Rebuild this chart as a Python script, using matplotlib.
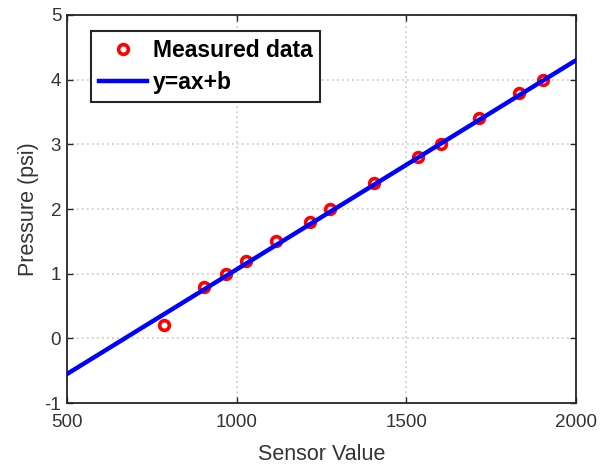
import numpy as np
import matplotlib.pyplot as plt

# ---------------------------------
# DATA
# ---------------------------------

sensor_value = [786, 904, 969, 1028, 1116, 1216, 1275, 1405, 1534, 1602, 1714, 1832, 1903]
pressure = [0.2, 0.8, 1.0, 1.2, 1.5, 1.8, 2.0, 2.4, 2.8, 3.0, 3.4, 3.8, 4.0]

# fitted line y = a*x + b
a = 0.003235
b = -2.17

x_ticks = [500, 1000, 1500, 2000]
y_ticks = [-1, 0, 1, 2, 3, 4, 5]

# ---------------------------------
# CREATE GRAPH
# ---------------------------------

plt.rcParams["font.family"] = ["Liberation Sans", "DejaVu Sans"]
plt.rcParams["axes.unicode_minus"] = False

fig = plt.figure(figsize=(6.07, 4.66), dpi=100)
ax = fig.add_axes([0.110, 0.135, 0.839, 0.833])

ax.plot(sensor_value, pressure, "o", color="red", markerfacecolor="none",
        markersize=7, markeredgewidth=2.6, label="Measured data", zorder=3)

x_line = np.array([x_ticks[0], x_ticks[-1]])
ax.plot(x_line, a * x_line + b, color="blue", linewidth=3.2,
        label="y=ax+b", zorder=4)

ax.set_xlim(x_ticks[0], x_ticks[-1])
ax.set_ylim(y_ticks[0], y_ticks[-1])
ax.set_xticks(x_ticks)
ax.set_yticks(y_ticks)

ax.grid(True, linestyle=(0, (1, 2)), color="#c8c8c8", linewidth=1.2)
ax.tick_params(direction="in", length=4, width=1.0, labelsize=13.5,
               top=True, right=True, colors="#262626", labelcolor="#333333")
ax.tick_params(axis="x", pad=8)
ax.tick_params(axis="y", pad=4)
for s in ax.spines.values():
    s.set_linewidth(1.3)
    s.set_color("#262626")

ax.set_xlabel("Sensor Value", fontsize=15.5, color="#333333", labelpad=9)
ax.set_ylabel("Pressure (psi)", fontsize=15.5, color="#333333", labelpad=4)

leg = ax.legend(loc="upper left", bbox_to_anchor=(0.047, 0.959), fancybox=False,
                framealpha=1, edgecolor="#262626", prop={"weight": "bold", "size": 16.5},
                handlelength=2.1, borderpad=0.35, labelspacing=0.4, handletextpad=0.25,
                borderaxespad=0)
leg.get_frame().set_linewidth(1.5)

# ---------------------------------
# SAVE GRAPH
# ---------------------------------

plt.savefig("out.png", dpi=100)
